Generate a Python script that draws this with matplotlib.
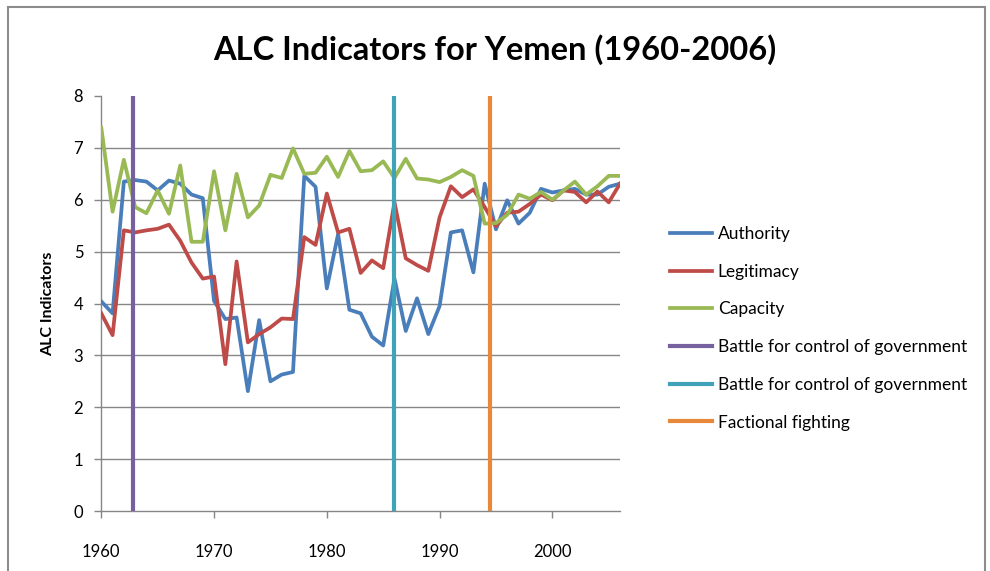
import matplotlib
matplotlib.use("Agg")
import matplotlib.pyplot as plt
from matplotlib.patches import Rectangle

years = list(range(1960, 2007))
authority = [4.04, 3.81, 6.35, 6.38, 6.35, 6.18, 6.37, 6.31, 6.10, 6.03,
             4.05, 3.70, 3.73, 2.31, 3.68, 2.50, 2.63, 2.68, 6.46, 6.25,
             4.29, 5.34, 3.88, 3.81, 3.36, 3.19, 4.48, 3.47, 4.10, 3.41,
             3.95, 5.37, 5.41, 4.60, 6.31, 5.43, 5.99, 5.54, 5.75, 6.21,
             6.14, 6.18, 6.21, 6.10, 6.10, 6.25, 6.31]
legitimacy = [3.81, 3.39, 5.41, 5.37, 5.41, 5.44, 5.52, 5.21, 4.79, 4.48,
              4.52, 2.83, 4.81, 3.25, 3.41, 3.54, 3.71, 3.70, 5.28, 5.13,
              6.12, 5.37, 5.44, 4.59, 4.83, 4.68, 5.95, 4.87, 4.74, 4.63,
              5.66, 6.26, 6.05, 6.20, 5.86, 5.49, 5.75, 5.77, 5.92, 6.10,
              5.99, 6.18, 6.15, 5.95, 6.16, 5.95, 6.31]
capacity = [7.39, 5.77, 6.77, 5.86, 5.74, 6.18, 5.73, 6.66, 5.19, 5.19,
            6.55, 5.41, 6.50, 5.66, 5.89, 6.48, 6.42, 6.99, 6.50, 6.52,
            6.83, 6.44, 6.94, 6.55, 6.57, 6.74, 6.42, 6.79, 6.41, 6.39,
            6.34, 6.44, 6.57, 6.46, 5.54, 5.55, 5.71, 6.10, 6.02, 6.15,
            6.00, 6.18, 6.35, 6.10, 6.26, 6.46, 6.46]

event_years = [1962.85, 1986.0, 1994.5]
event_labels = ["Battle for control of government",
                "Battle for control of government",
                "Factional fighting"]

series_labels = ["Authority", "Legitimacy", "Capacity"]
series_colors = ["#4A7EBB", "#BE4B48", "#98B954"]
event_colors = ["#7560A0", "#3FA3BA", "#E8883A"]

y_ticks = [0, 1, 2, 3, 4, 5, 6, 7, 8]
x_ticks = [1960, 1970, 1980, 1990, 2000]

W, H = 990, 571
fig = plt.figure(figsize=(W / 100, H / 100), dpi=100)
font = "Lato"

# chart frame
fig.patches.append(Rectangle((8 / W, -0.05), (985 - 8) / W, 1 - 7 / H + 0.05,
                             transform=fig.transFigure, fill=False,
                             edgecolor="#8C8C8C", linewidth=1.5))

ax = fig.add_axes([101.3 / W, (H - 511) / H, (620 - 101.3) / W, (511 - 96) / H])

ax.set_xlim(1960, 2006)
ax.set_ylim(0, 8)

for v in y_ticks[1:-1]:
    ax.axhline(v, color="#868686", linewidth=1.0, zorder=1)

for vals, lab, col in zip([authority, legitimacy, capacity], series_labels, series_colors):
    ax.plot(years, vals, color=col, linewidth=2.7, label=lab, zorder=3,
            solid_joinstyle="round")

for ey, lab, col in zip(event_years, event_labels, event_colors):
    ax.plot([ey, ey], [0, 8], color=col, linewidth=3.0, label=lab, zorder=4)

for s in ["top", "right"]:
    ax.spines[s].set_visible(False)
for s in ["left", "bottom"]:
    ax.spines[s].set_color("#868686")
    ax.spines[s].set_linewidth(1.0)

ax.set_yticks(y_ticks)
ax.set_xticks(x_ticks)
ax.tick_params(axis="both", colors="#868686", length=5, width=1.0,
               labelcolor="black", labelsize=12)
for t in ax.get_xticklabels() + ax.get_yticklabels():
    t.set_family(font)
ax.tick_params(axis="x", pad=19)
ax.tick_params(axis="y", pad=8)

ax.set_ylabel("ALC Indicators", fontsize=11.5, fontweight="bold", family=font,
              labelpad=13)

fig.text(0.5, 1 - 50 / H, "ALC Indicators for Yemen (1960-2006)", ha="center",
         va="center", fontsize=23.5, fontweight="bold", family=font)

leg = ax.legend(loc="upper left", bbox_to_anchor=(670 / W, 1 - 226 / H),
                bbox_transform=fig.transFigure, frameon=False,
                prop={"family": font, "size": 12.5}, handlelength=2.4,
                handletextpad=0.35, labelspacing=1.25, borderpad=0,
                borderaxespad=0)

fig.savefig("out.png", dpi=100)
